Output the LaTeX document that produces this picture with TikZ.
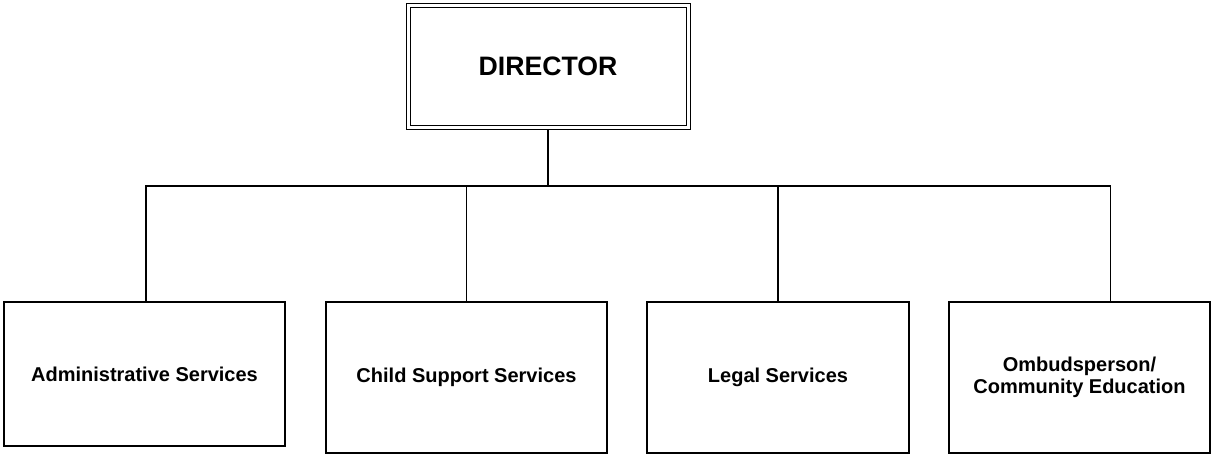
\documentclass[tikz,border=0pt]{standalone}
\usepackage{fontspec}
\setmainfont{Liberation Sans}
\begin{document}
\begin{tikzpicture}[x=0.75pt,y=-0.75pt,
  unitbox/.style={draw, line width=0.9pt, rectangle, inner sep=0pt, outer sep=0pt,
    align=center, font=\fontsize{15}{16.5}\selectfont\bfseries},
  topbox/.style={draw, line width=0.75pt, double, double distance=2.25pt, rectangle,
    inner sep=0pt, outer sep=1.5pt, minimum width=210pt, minimum height=91.5pt,
    font=\fontsize{20}{24}\selectfont\bfseries},
  link/.style={line width=0.8pt}]
\useasboundingbox (0,0) rectangle (1211,454);
\node[topbox] (dir) at (548,66) {DIRECTOR};
\node[unitbox, minimum width=210.75pt, minimum height=108pt] (adm) at (144.5,374) {Administrative Services};
\node[unitbox, minimum width=210.75pt, minimum height=113.25pt] (csup) at (466.5,377.5) {Child Support Services};
\node[unitbox, minimum width=196.5pt, minimum height=113.25pt] (legal) at (778,377.5) {Legal Services};
\node[unitbox, minimum width=195.75pt, minimum height=113.25pt] (omb) at (1079.5,377.5) {Ombudsperson/\\Community Education};
\coordinate (hub) at (548,186);
\draw[link] (dir.south) -- (hub);
\draw[link] (hub) -| ([xshift=1.1pt]adm.north);
\draw[link] (hub) -| (csup.north);
\draw[link] (hub) -| (legal.north);
\draw[link] (hub) -| ([xshift=22.9pt]omb.north);
\end{tikzpicture}
\end{document}
